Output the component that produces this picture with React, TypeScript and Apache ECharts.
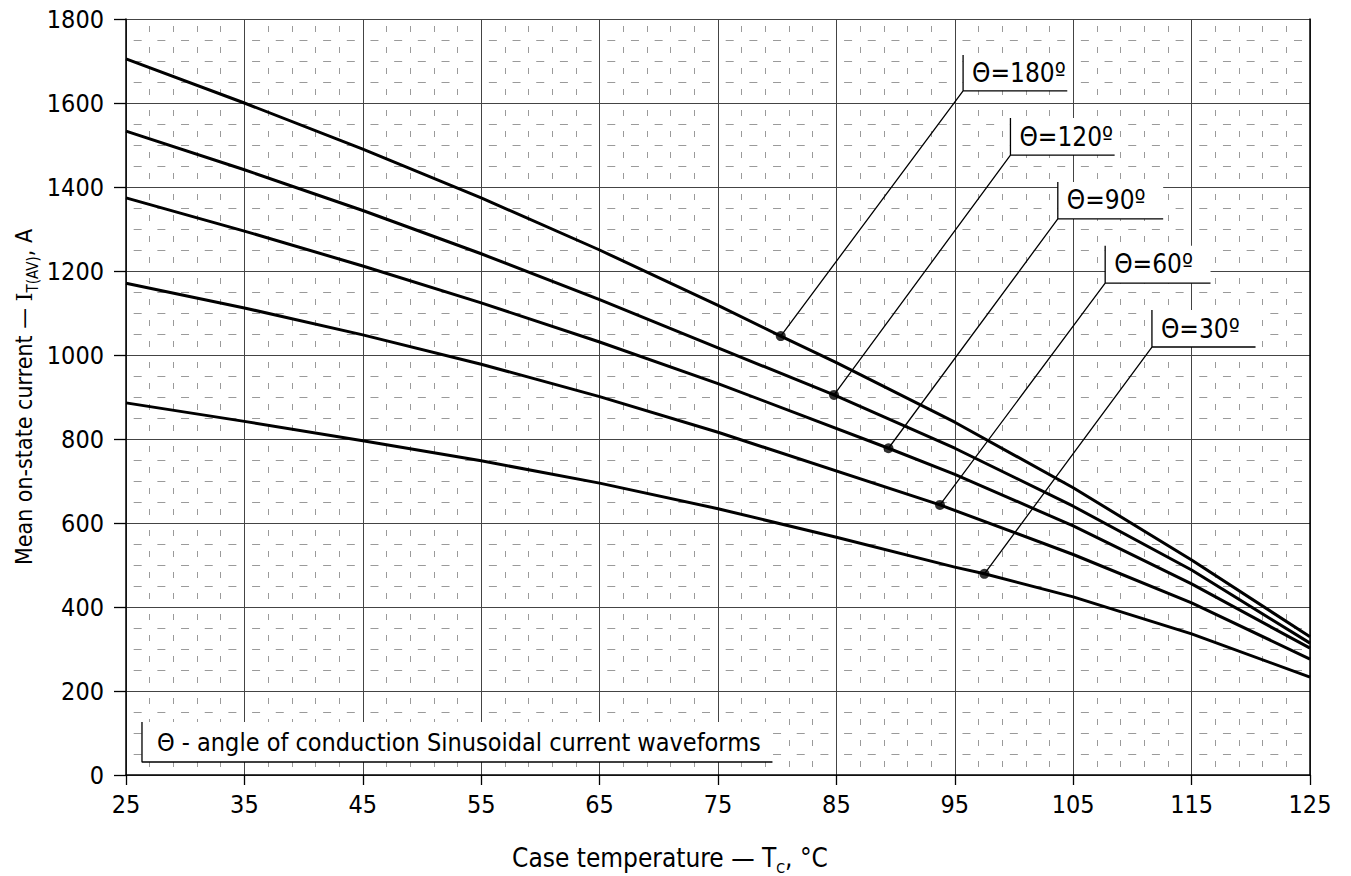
import React, { useEffect, useRef } from 'react';
import * as echarts from 'echarts';

// ---------- data ----------
const T0 = 25; // first temperature tick (x axis origin)
const xTickStep = 10;
const yTickStep = 200;

const temp180 = [25, 35, 45, 55, 65, 75, 80.3, 85, 95, 105, 115, 125];
const curr180 = [1705, 1600, 1490, 1374, 1250, 1118, 1045, 982, 840, 684, 512, 329];
const temp120 = [25, 35, 45, 55, 65, 75, 84.8, 95, 105, 115, 125];
const curr120 = [1533, 1441, 1344, 1241, 1132, 1017, 905, 778, 640, 488, 314];
const temp90 = [25, 35, 45, 55, 65, 75, 89.4, 95, 105, 115, 125];
const curr90 = [1374, 1295, 1212, 1124, 1031, 932, 778, 716, 593, 455, 302];
const temp60 = [25, 35, 45, 55, 65, 75, 93.75, 105, 115, 125];
const curr60 = [1171, 1112, 1048, 978, 901, 816, 643, 525, 410, 276];
const temp30 = [25, 35, 45, 55, 65, 75, 85, 95, 97.5, 105, 115, 125];
const curr30 = [886, 842, 796, 748, 695, 634, 566, 495, 479, 424, 336, 233];

const curveNames = ['Θ=180º', 'Θ=120º', 'Θ=90º', 'Θ=60º', 'Θ=30º'];
const curveTemps = [temp180, temp120, temp90, temp60, temp30];
const curveCurrs = [curr180, curr120, curr90, curr60, curr30];

// marked points on each curve
const dotTemp = [80.3, 84.8, 89.4, 93.75, 97.5];
const dotCurr = [1045, 905, 778, 643, 479];

// annotation callouts (data coords)
const calloutCornerT = [95.7, 99.7, 103.7, 107.7, 111.65];
const calloutCornerI = [1629, 1476, 1324, 1171, 1019];
const calloutEndT = [104.5, 108.5, 112.6, 116.6, 120.4];
const calloutTopI = [1714, 1564, 1412, 1260, 1107];

const noteText = 'Θ - angle of conduction Sinusoidal current waveforms';
const noteT = [26.35, 79.6];
const noteI = [31, 126];

const FONT = "'DejaVu Sans Condensed', 'DejaVu Sans', sans-serif";

const tx = (t: number) => t - T0;

function buildOption() {
  const series: any[] = [];

  // white boxes behind callout texts + note
  const areaData: any[] = curveNames.map((n, i) => [
    { name: n, coord: [tx(calloutCornerT[i]), calloutTopI[i]] },
    { coord: [tx(calloutEndT[i]), calloutCornerI[i]] },
  ]);
  series.push({
    type: 'scatter',
    data: [[tx(calloutCornerT[0]), calloutCornerI[0]]],
    symbolSize: 0,
    silent: true,
    markArea: {
      silent: true,
      itemStyle: { color: '#ffffff', opacity: 1, borderWidth: 0 },
      label: {
        show: true,
        position: 'insideLeft',
        distance: 9,
        color: '#000',
        fontSize: 26,
        fontFamily: FONT,
        formatter: '{b}',
      },
      emphasis: { disabled: true },
      data: areaData,
    },
  });
  series.push({
    type: 'scatter',
    data: [[tx(noteT[0]), noteI[0]]],
    symbolSize: 0,
    silent: true,
    markArea: {
      silent: true,
      itemStyle: { color: '#ffffff', opacity: 1, borderWidth: 0 },
      label: {
        show: true,
        position: 'insideLeft',
        distance: 15,
        color: '#000',
        fontSize: 25,
        fontFamily: FONT,
        formatter: '{b}',
      },
      emphasis: { disabled: true },
      data: [[
        { name: noteText, coord: [tx(noteT[0]), noteI[1]] },
        { coord: [tx(noteT[1]), noteI[0]] },
      ]],
    },
  });

  // curves
  curveNames.forEach((n, i) => {
    series.push({
      name: n,
      type: 'line',
      z: 3,
      symbol: 'none',
      silent: true,
      smooth: false,
      lineStyle: { color: '#000', width: 3, join: 'round' },
      data: curveTemps[i].map((t, k) => [tx(t), curveCurrs[i][k]]),
    });
  });

  // callout leader lines
  curveNames.forEach((n, i) => {
    const c = [tx(calloutCornerT[i]), calloutCornerI[i]];
    series.push({
      type: 'line',
      z: 3,
      symbol: 'none',
      silent: true,
      lineStyle: { color: '#000', width: 1.3 },
      data: [
        [tx(dotTemp[i]), dotCurr[i]],
        c,
        [c[0], calloutTopI[i]],
        c,
        [tx(calloutEndT[i]), calloutCornerI[i]],
      ],
    });
  });

  // note box lines
  series.push({
    type: 'line',
    z: 3,
    symbol: 'none',
    silent: true,
    lineStyle: { color: '#000', width: 1.3 },
    data: [
      [tx(noteT[0]), noteI[1]],
      [tx(noteT[0]), noteI[0]],
      [tx(noteT[1]), noteI[0]],
    ],
  });

  // dots
  series.push({
    type: 'scatter',
    z: 4,
    symbol: 'circle',
    symbolSize: 10,
    silent: true,
    itemStyle: { color: '#000' },
    data: dotTemp.map((t, i) => [tx(t), dotCurr[i]]),
  });

  return {
    animation: false,
    backgroundColor: '#ffffff',
    textStyle: { fontFamily: FONT },
    grid: { left: 126, right: 41, top: 19, bottom: 101 },
    xAxis: {
      type: 'value',
      min: 0,
      max: 100,
      interval: xTickStep,
      axisLine: { show: true, onZero: false, lineStyle: { color: '#000', width: 1.5 } },
      axisTick: { show: true, length: 10, lineStyle: { color: '#000', width: 1.3 } },
      axisLabel: {
        color: '#000',
        fontSize: 25,
        fontFamily: FONT,
        margin: 17,
        formatter: (v: number) => String(v + T0),
      },
      splitLine: { show: true, lineStyle: { color: '#444', width: 1 } },
      minorTick: { show: false, splitNumber: 5 },
      minorSplitLine: {
        show: true,
        lineStyle: { color: '#9a9a9a', width: 1, type: [6, 15], dashOffset: 13.5 },
      },
    },
    yAxis: [
      {
        type: 'value',
        min: 0,
        max: 1800,
        interval: yTickStep,
        axisLine: { show: true, lineStyle: { color: '#000', width: 1.5 } },
        axisTick: { show: true, length: 12, lineStyle: { color: '#000', width: 1.3 } },
        axisLabel: {
          color: '#000',
          fontSize: 25,
          fontFamily: FONT,
          margin: 22,
          formatter: (v: number) => String(v),
        },
        splitLine: { show: true, lineStyle: { color: '#444', width: 1 } },
        minorTick: { show: false, splitNumber: 4 },
        minorSplitLine: {
          show: true,
          lineStyle: { color: '#9a9a9a', width: 1, type: [8, 15.68], dashOffset: 15.84 },
        },
      },
      {
        type: 'value',
        min: 0,
        max: 1800,
        interval: yTickStep,
        position: 'right',
        axisLine: { show: true, lineStyle: { color: '#000', width: 1.5 } },
        axisTick: { show: false },
        axisLabel: { show: false },
        splitLine: { show: false },
      },
    ],
    graphic: [
      {
        type: 'text',
        x: 670,
        y: 858,
        style: {
          text: 'Case temperature — T{sub|C}, °C',
          fontSize: 26,
          fontFamily: FONT,
          fill: '#000',
          align: 'center',
          verticalAlign: 'middle',
          rich: {
            sub: { fontSize: 14, lineHeight: 34, verticalAlign: 'bottom', fontFamily: FONT },
          },
        },
      },
      {
        type: 'text',
        x: 24,
        y: 397,
        rotation: Math.PI / 2,
        style: {
          text: 'Mean on-state current — {ser|I}{sub|T(AV)}, A',
          fontSize: 23,
          fontFamily: FONT,
          fill: '#000',
          align: 'center',
          verticalAlign: 'middle',
          rich: {
            ser: { fontSize: 23, fontFamily: "'DejaVu Serif', serif" },
            sub: { fontSize: 15, lineHeight: 32, verticalAlign: 'bottom', fontFamily: FONT },
          },
        },
      },
    ],
    series,
  };
}

export default function App() {
  const ref = useRef<HTMLDivElement>(null);
  useEffect(() => {
    if (!ref.current) return;
    const chart = echarts.init(ref.current, null, { renderer: 'svg' });
    chart.setOption(buildOption() as any);
    return () => chart.dispose();
  }, []);
  return (
    <div
      ref={ref}
      style={{ position: 'fixed', left: 0, top: 0, width: 1351, height: 876, background: '#fff' }}
    />
  );
}
